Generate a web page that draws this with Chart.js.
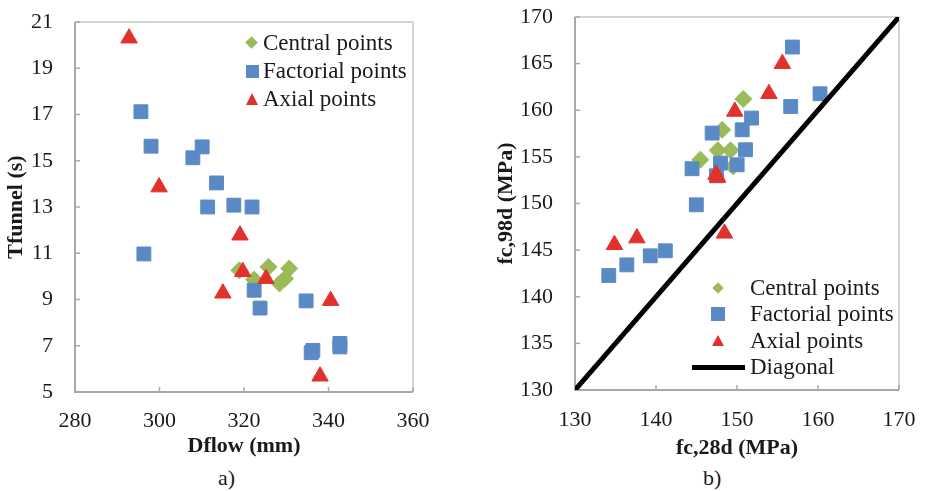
<!DOCTYPE html>
<html>
<head>
<meta charset="utf-8">
<script src="https://cdn.jsdelivr.net/npm/chart.js@4.4.1/dist/chart.umd.min.js"></script>
<style>
  body { margin: 0; background: #fff; }
  #wrap { position: relative; width: 925px; height: 491px; overflow: hidden; font-family: 'Liberation Serif', 'Times New Roman', serif; color: #1a1a1a; }
  #leftBox { position: absolute; left: 0; top: 0; width: 440px; height: 465px; }
  #rightBox { position: absolute; left: 470px; top: 0; width: 455px; height: 465px; }
  .lg { position: absolute; font-size: 23px; line-height: 26px; white-space: nowrap; }
  .dia { position: absolute; background: #9bbb59; transform: rotate(45deg); }
  .sq { position: absolute; background: #5a8ac6; }
  .tri { position: absolute; width: 0; height: 0; border-style: solid; border-color: transparent transparent #e2312a transparent; }
  .cap { position: absolute; font-size: 22px; line-height: 26px; }
</style>
</head>
<body>
<div id="wrap">
  <div id="leftBox"><canvas id="leftChart"></canvas></div>
  <div id="rightBox"><canvas id="rightChart"></canvas></div>

  <!-- legend a) -->
  <div class="dia" style="left:247px;top:38px;width:9px;height:9px;"></div>
  <div class="lg" style="left:263px;top:30px;">Central points</div>
  <div class="sq" style="left:246px;top:65px;width:13px;height:13px;"></div>
  <div class="lg" style="left:263px;top:58px;">Factorial points</div>
  <div class="tri" style="left:246px;top:93px;border-width:0 6.5px 12px 6.5px;"></div>
  <div class="lg" style="left:263px;top:86px;">Axial points</div>

  <!-- legend b) -->
  <div class="dia" style="left:714px;top:284px;width:8px;height:8px;"></div>
  <div class="lg" style="left:750px;top:275px;">Central points</div>
  <div class="sq" style="left:711px;top:307px;width:14px;height:14px;"></div>
  <div class="lg" style="left:750px;top:301px;">Factorial points</div>
  <div class="tri" style="left:712px;top:335px;border-width:0 6px 11px 6px;"></div>
  <div class="lg" style="left:750px;top:328px;">Axial points</div>
  <div style="position:absolute;left:692px;top:365px;width:53px;height:5px;background:#000;"></div>
  <div class="lg" style="left:750px;top:354px;">Diagonal</div>

  <div class="cap" style="left:218px;top:465px;">a)</div>
  <div class="cap" style="left:703px;top:465px;">b)</div>
</div>

<script>
// a) Tfunnel vs Dflow
const dflowCentral = [318.9, 322.4, 325.8, 330.7, 328.4, 329.7];
const tfunnelCentral = [10.26, 9.86, 10.41, 10.34, 9.69, 9.9];
const dflowFactorial = [295.6, 298.0, 310.1, 307.9, 313.5, 311.4, 317.6, 321.9, 296.3, 322.4, 323.8, 334.7, 335.9, 336.3, 342.7, 342.7];
const tfunnelFactorial = [17.12, 15.63, 15.6, 15.13, 14.04, 13.0, 13.08, 13.0, 10.97, 9.4, 8.63, 8.94, 6.7, 6.8, 7.1, 6.95];
const dflowAxial = [292.8, 299.9, 319.05, 319.7, 315.0, 325.2, 340.5, 338.0];
const tfunnelAxial = [20.3, 13.86, 11.78, 10.2, 9.27, 9.9, 8.95, 5.68];

// b) fc,98d vs fc,28d
const fc28Central = [150.77, 148.17, 145.48, 147.62, 149.2, 149.53];
const fc98Central = [161.2, 157.9, 154.7, 155.7, 155.7, 153.97];
const fc28Factorial = [156.84, 160.25, 156.63, 151.8, 150.64, 146.93, 151.05, 147.96, 150.02, 144.45, 147.46, 144.98, 134.17, 136.4, 139.29, 141.15];
const fc98Factorial = [166.78, 161.77, 160.4, 159.16, 157.9, 157.55, 155.76, 154.33, 154.15, 153.73, 152.97, 149.86, 142.28, 143.42, 144.39, 144.93];
const fc28Axial = [155.6, 153.94, 149.73, 147.62, 147.4, 134.87, 137.64, 148.45];
const fc98Axial = [164.99, 161.77, 159.87, 152.8, 153.1, 145.57, 146.29, 146.8];
const diagonal = [130, 170];

const GREEN = '#9bbb59', BLUE = '#5a8ac6', RED = '#e2312a';
const FONT = "'Liberation Serif', 'Times New Roman', serif";

Chart.defaults.font.family = FONT;
Chart.defaults.color = '#1a1a1a';
Chart.defaults.animation = false;

function toPoints(xs, ys) {
  return xs.map((x, i) => ({ x: x, y: ys[i] }));
}

// plot-area frame and inward tick marks, like the Excel original
const framePlugin = {
  id: 'frame',
  beforeDatasetsDraw(chart) {
    const { ctx, chartArea: a, scales } = chart;
    ctx.save();
    ctx.strokeStyle = '#c8c8c8';
    ctx.lineWidth = 1.5;
    ctx.beginPath();
    ctx.moveTo(a.left, a.top); ctx.lineTo(a.right, a.top); ctx.lineTo(a.right, a.bottom);
    ctx.stroke();
    ctx.strokeStyle = '#a8a8a8';
    ctx.lineWidth = 2;
    ctx.beginPath();
    ctx.moveTo(a.left, a.top); ctx.lineTo(a.left, a.bottom); ctx.lineTo(a.right, a.bottom);
    ctx.stroke();
    ctx.lineWidth = 1.5;
    scales.x.ticks.forEach(t => {
      const px = scales.x.getPixelForValue(t.value);
      ctx.beginPath(); ctx.moveTo(px, a.bottom); ctx.lineTo(px, a.bottom - 5); ctx.stroke();
    });
    scales.y.ticks.forEach(t => {
      const py = scales.y.getPixelForValue(t.value);
      ctx.beginPath(); ctx.moveTo(a.left, py); ctx.lineTo(a.left + 5, py); ctx.stroke();
    });
    ctx.restore();
  }
};

function axis(min, max, step, title, titlePad, tickPad, fitSize, isX) {
  return {
    type: 'linear',
    min: min,
    max: max,
    grid: { display: false, drawTicks: false },
    border: { display: false },
    ticks: { stepSize: step, padding: tickPad, font: { size: 22 }, color: '#1a1a1a' },
    title: { display: true, text: title, font: { size: 22, weight: 'bold' }, color: '#1a1a1a', padding: titlePad },
    afterFit: s => {
      if (isX) s.height = fitSize; else s.width = fitSize;
      // keep the plot area exactly where layout.padding puts it
      s.paddingTop = 0; s.paddingBottom = 0; s.paddingLeft = 0; s.paddingRight = 0;
    }
  };
}

function series(label, pts, style, color, r, order) {
  return {
    label: label,
    data: pts,
    pointStyle: style,
    pointRadius: r,
    pointHoverRadius: r,
    backgroundColor: color,
    borderColor: color,
    pointBorderWidth: 1,
    showLine: false,
    order: order
  };
}

new Chart(document.getElementById('leftChart'), {
  type: 'scatter',
  data: {
    datasets: [
      series('Central points', toPoints(dflowCentral, tfunnelCentral), 'rectRot', GREEN, 8.5, 3),
      series('Factorial points', toPoints(dflowFactorial, tfunnelFactorial), 'rect', BLUE, 9.8, 2),
      series('Axial points', toPoints(dflowAxial, tfunnelAxial), 'triangle', RED, 9.5, 1)
    ]
  },
  options: {
    responsive: true,
    maintainAspectRatio: false,
    layout: { padding: { top: 22, right: 27, left: 0, bottom: 0 } },
    plugins: { legend: { display: false }, tooltip: { enabled: false } },
    scales: {
      x: axis(280, 360, 20, 'Dflow (mm)', { top: 0, bottom: 5 }, 16, 73, true),
      y: axis(5, 21, 2, 'Tfunnel (s)', { top: 3, bottom: 0 }, 22, 75, false)
    }
  },
  plugins: [framePlugin]
});

new Chart(document.getElementById('rightChart'), {
  type: 'scatter',
  data: {
    datasets: [
      series('Central points', toPoints(fc28Central, fc98Central), 'rectRot', GREEN, 8.5, 4),
      series('Factorial points', toPoints(fc28Factorial, fc98Factorial), 'rect', BLUE, 9.8, 3),
      series('Axial points', toPoints(fc28Axial, fc98Axial), 'triangle', RED, 9.5, 2),
      {
        label: 'Diagonal',
        data: toPoints(diagonal, diagonal),
        showLine: true,
        borderColor: '#000',
        borderWidth: 5,
        pointRadius: 0,
        order: 1
      }
    ]
  },
  options: {
    responsive: true,
    maintainAspectRatio: false,
    layout: { padding: { top: 17, right: 26, left: 0, bottom: 0 } },
    plugins: { legend: { display: false }, tooltip: { enabled: false } },
    scales: {
      x: axis(130, 170, 10, 'fc,28d (MPa)', { top: 0, bottom: 3 }, 17, 75, true),
      y: axis(130, 170, 5, 'fc,98d (MPa)', { top: 23, bottom: 0 }, 22, 105, false)
    }
  },
  plugins: [framePlugin]
});
</script>
</body>
</html>
